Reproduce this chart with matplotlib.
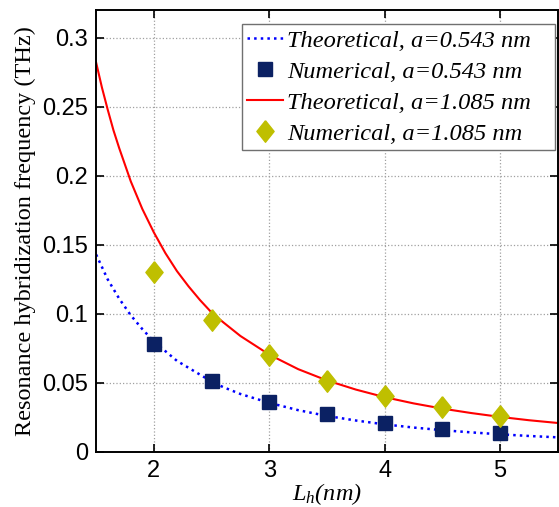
import numpy as np
import matplotlib
matplotlib.use('Agg')
import matplotlib.pyplot as plt

plt.rcParams['mathtext.fontset'] = 'custom'
plt.rcParams['mathtext.it'] = 'Liberation Serif:italic'
plt.rcParams['mathtext.rm'] = 'Liberation Serif'

# theoretical curves, values
L_theory = [1.5, 1.55, 1.6, 1.65, 1.7, 1.8, 1.9, 2.0, 2.1, 2.2, 2.3, 2.4, 2.5, 2.6, 2.75,
            3.0, 3.25, 3.5, 3.75, 4.0, 4.25, 4.5, 4.75, 5.0, 5.25, 5.5]
f_theory_small = [0.143, 0.134, 0.125, 0.118, 0.111, 0.099, 0.089, 0.080, 0.073, 0.066, 0.061,
                  0.056, 0.051, 0.047, 0.042, 0.0356, 0.0303, 0.0261, 0.0228, 0.0200, 0.0177,
                  0.0158, 0.0142, 0.0128, 0.0116, 0.0106]
f_theory_large = [0.282, 0.264, 0.248, 0.233, 0.220, 0.196, 0.176, 0.159, 0.144, 0.131, 0.120,
                  0.110, 0.101, 0.094, 0.084, 0.0705, 0.060, 0.0518, 0.0452, 0.0397, 0.0352,
                  0.0314, 0.0282, 0.0254, 0.0230, 0.0210]

# numerical results
L_num = [2.0, 2.5, 3.0, 3.5, 4.0, 4.5, 5.0]
f_num_small = [0.0784, 0.0517, 0.0362, 0.0274, 0.0209, 0.0165, 0.0136]
f_num_large = [0.1305, 0.0956, 0.0701, 0.0517, 0.0403, 0.0325, 0.0264]

labels = ['Theoretical, a=0.543 nm', 'Numerical, a=0.543 nm',
          'Theoretical, a=1.085 nm', 'Numerical, a=1.085 nm']

fig = plt.figure(figsize=(5.59, 5.07), dpi=100)
ax = fig.add_axes([0.172, 0.1085, 0.826, 0.8715])

diamond = [(0, 1), (0.8, 0), (0, -1), (-0.8, 0), (0, 1)]

ax.plot(L_theory, f_theory_small, ':', color='#0000ff', lw=1.8, label=labels[0])
ax.plot(L_num, f_num_small, 's', color='#0b2163', mec='#0b2163', ms=10.5, ls='none', label=labels[1])
ax.plot(L_theory, f_theory_large, '-', color='#ff0000', lw=1.5, label=labels[2])
ax.plot(L_num, f_num_large, marker=diamond, color='#bfbf00', ms=15.5, ls='none', label=labels[3])

ax.set_xlim(1.5, 5.5)
ax.set_ylim(0, 0.32)
ax.set_xticks([2, 3, 4, 5])
ax.set_yticks([0, 0.05, 0.1, 0.15, 0.2, 0.25, 0.3])
ax.set_yticklabels(['0', '0.05', '0.1', '0.15', '0.2', '0.25', '0.3'])
ax.grid(True, ls=':', color='#a0a0a0', lw=0.9)
ax.tick_params(direction='in', top=True, right=True, length=6, width=1.2,
               labelsize=17, pad=6)
for lab in ax.get_xticklabels() + ax.get_yticklabels():
    lab.set_family('Liberation Sans')
for s in ax.spines.values():
    s.set_linewidth(1.4)

ax.set_ylabel('Resonance hybridization frequency (THz)', family='Liberation Serif', fontsize=17.5, labelpad=4)
ax.set_xlabel(r'$L_h$(nm)', family='Liberation Serif', style='italic', fontsize=17.5)
ax.xaxis.set_label_coords(0.5, -0.066)

leg = ax.legend(loc='upper left', bbox_to_anchor=(0.316, 0.968, 0.677, 0), mode='expand',
                borderaxespad=0, fancybox=False, framealpha=1, edgecolor='#707070',
                prop={'family': 'Liberation Serif', 'style': 'italic', 'size': 17.6},
                handlelength=1.45, handletextpad=0.17, labelspacing=0.36, borderpad=0.22)
leg.get_frame().set_linewidth(1.0)

fig.savefig('out.png', dpi=100)
